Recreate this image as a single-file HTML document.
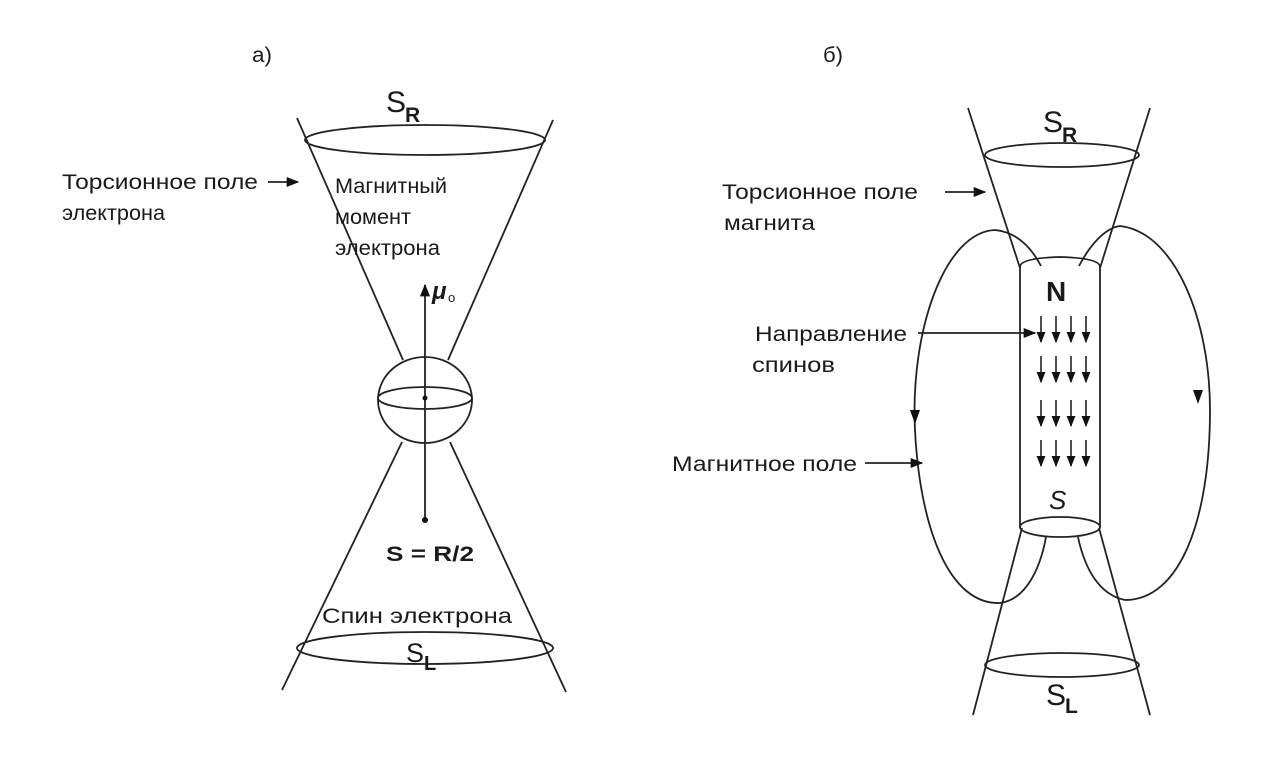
<!DOCTYPE html>
<html><head><meta charset="utf-8"><style>
html,body{margin:0;padding:0;background:#fff;}
svg{display:block;}
text{font-family:"Liberation Sans",sans-serif;fill:#1a1a1a;}
</style></head><body>
<svg width="1280" height="763" viewBox="0 0 1280 763" xmlns="http://www.w3.org/2000/svg">
<defs>
<marker id="a" viewBox="0 0 10 10" refX="9" refY="5" markerWidth="7" markerHeight="7" orient="auto"><path d="M0,1 L10,5 L0,9 z" fill="#111"/></marker>
</defs>
<g stroke="#222" stroke-width="1.8" fill="none">
<ellipse cx="425" cy="140" rx="120" ry="15"/>
<line x1="297" y1="118" x2="403" y2="360"/>
<line x1="553" y1="120" x2="448" y2="360"/>
<ellipse cx="425" cy="400" rx="47" ry="43"/>
<ellipse cx="425" cy="398" rx="47" ry="11"/>
<line x1="402" y1="442" x2="282" y2="690"/>
<line x1="450" y1="442" x2="566" y2="692"/>
<ellipse cx="425" cy="648" rx="128" ry="16"/>
<line x1="425" y1="520" x2="425" y2="285" marker-end="url(#a)"/>
<line x1="268" y1="182" x2="298" y2="182" marker-end="url(#a)"/>
<ellipse cx="1062" cy="155" rx="77" ry="12"/>
<line x1="968" y1="108" x2="1020" y2="268"/>
<line x1="1150" y1="108" x2="1100" y2="268"/>
<path d="M1020 267 Q1020 258 1060 257 Q1100 258 1100 267"/>
<line x1="1020" y1="267" x2="1020" y2="527"/>
<line x1="1100" y1="267" x2="1100" y2="527"/>
<ellipse cx="1060" cy="527" rx="40" ry="10"/>
<line x1="1022" y1="528" x2="973" y2="715"/>
<line x1="1099" y1="528" x2="1150" y2="715"/>
<ellipse cx="1062" cy="665" rx="77" ry="12"/>
<path d="M1041 266 C1030 245 1015 232 995 230 C945 232 910 330 915 430 C920 530 950 605 1000 603 C1025 600 1040 570 1046 537"/>
<path d="M1079 266 C1090 245 1105 228 1120 226 C1175 232 1210 320 1210 410 C1210 520 1180 600 1125 600 C1100 595 1085 570 1078 537"/>
<line x1="945" y1="192" x2="985" y2="192" marker-end="url(#a)"/>
<line x1="918" y1="333" x2="1035" y2="333" marker-end="url(#a)"/>
<line x1="865" y1="463" x2="922" y2="463" marker-end="url(#a)"/>
</g>
<path d="M910 410 L920 410 L915 424 z" fill="#111"/>
<path d="M1193 390 L1203 390 L1198 404 z" fill="#111"/>
<g stroke="#222" stroke-width="1.6" marker-end="url(#a)">
<line x1="1041" y1="316" x2="1041" y2="342"/><line x1="1056" y1="316" x2="1056" y2="342"/><line x1="1071" y1="316" x2="1071" y2="342"/><line x1="1086" y1="316" x2="1086" y2="342"/>
<line x1="1041" y1="356" x2="1041" y2="382"/><line x1="1056" y1="356" x2="1056" y2="382"/><line x1="1071" y1="356" x2="1071" y2="382"/><line x1="1086" y1="356" x2="1086" y2="382"/>
<line x1="1041" y1="400" x2="1041" y2="426"/><line x1="1056" y1="400" x2="1056" y2="426"/><line x1="1071" y1="400" x2="1071" y2="426"/><line x1="1086" y1="400" x2="1086" y2="426"/>
<line x1="1041" y1="440" x2="1041" y2="466"/><line x1="1056" y1="440" x2="1056" y2="466"/><line x1="1071" y1="440" x2="1071" y2="466"/><line x1="1086" y1="440" x2="1086" y2="466"/>
</g>
<circle cx="425" cy="520" r="3" fill="#111"/>
<circle cx="425" cy="398" r="2.5" fill="#111"/>
<g style="font-size:21px">
<text x="252" y="62" textLength="20" lengthAdjust="spacingAndGlyphs">а)</text>
<text x="823" y="62" textLength="20" lengthAdjust="spacingAndGlyphs">б)</text>
<text x="62" y="189" textLength="196" lengthAdjust="spacingAndGlyphs">Торсионное поле</text>
<text x="62" y="220" textLength="103" lengthAdjust="spacingAndGlyphs">электрона</text>
<text x="335" y="193" textLength="112" lengthAdjust="spacingAndGlyphs">Магнитный</text>
<text x="335" y="224" textLength="76" lengthAdjust="spacingAndGlyphs">момент</text>
<text x="335" y="255" textLength="105" lengthAdjust="spacingAndGlyphs">электрона</text>
<text x="322" y="623" textLength="190" lengthAdjust="spacingAndGlyphs">Спин  электрона</text>
<text x="722" y="199" textLength="196" lengthAdjust="spacingAndGlyphs">Торсионное поле</text>
<text x="724" y="230" textLength="91" lengthAdjust="spacingAndGlyphs">магнита</text>
<text x="755" y="341" textLength="152" lengthAdjust="spacingAndGlyphs">Направление</text>
<text x="752" y="372" textLength="83" lengthAdjust="spacingAndGlyphs">спинов</text>
<text x="672" y="471" textLength="185" lengthAdjust="spacingAndGlyphs">Магнитное поле</text>
</g>
<text x="386" y="112" style="font-size:30px">S</text><text x="405" y="122" style="font-size:21px;font-weight:bold">R</text>
<text x="432" y="299" style="font-size:24px;font-weight:bold;font-style:italic">μ</text><text x="448" y="302" style="font-size:13px">o</text>
<text x="386" y="561" style="font-size:21px;font-weight:bold" textLength="88" lengthAdjust="spacingAndGlyphs">S = R/2</text>
<text x="406" y="662" style="font-size:27px">S</text><text x="424" y="670" style="font-size:20px;font-weight:bold">L</text>
<text x="1043" y="132" style="font-size:30px">S</text><text x="1062" y="142" style="font-size:21px;font-weight:bold">R</text>
<text x="1046" y="301" style="font-size:28px;font-weight:bold">N</text>
<text x="1049" y="509" style="font-size:26px;font-style:italic">S</text>
<text x="1046" y="705" style="font-size:30px">S</text><text x="1065" y="713" style="font-size:21px;font-weight:bold">L</text>
</svg>
</body></html>
